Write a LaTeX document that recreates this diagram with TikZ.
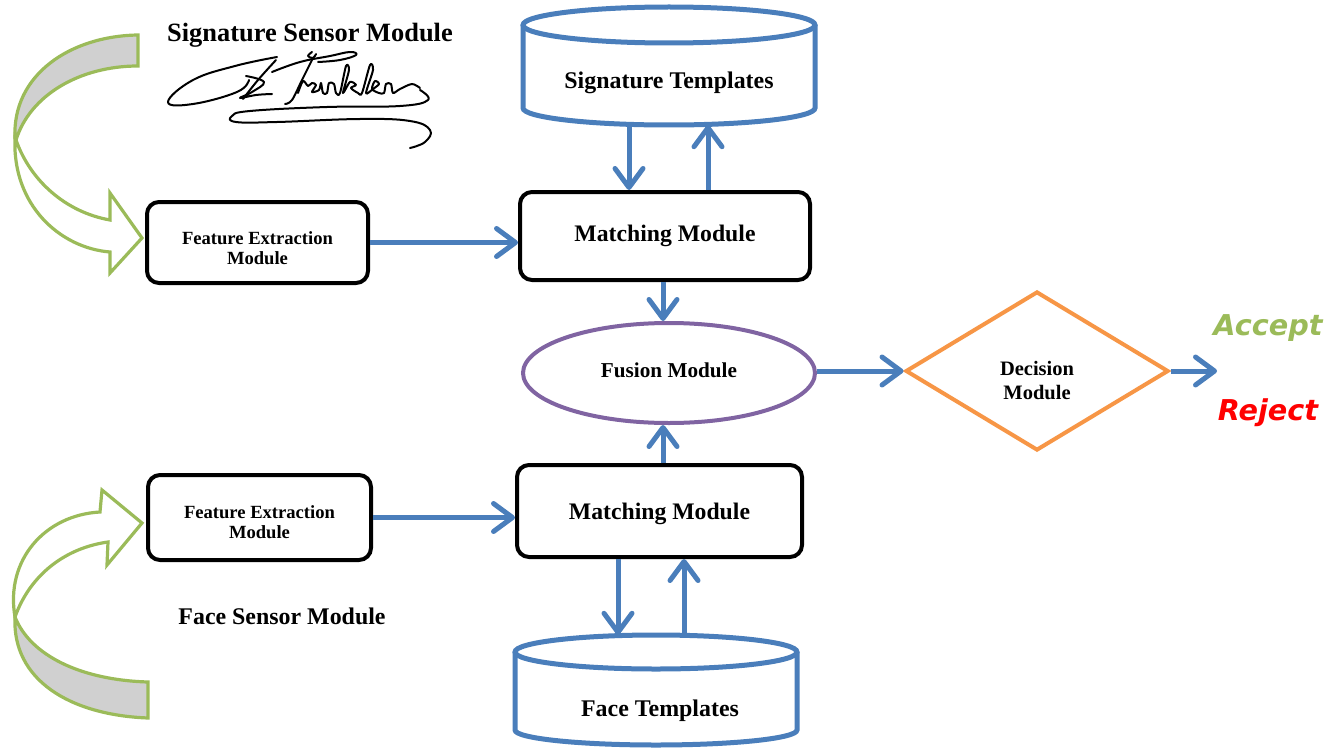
\documentclass[tikz,border=0pt]{standalone}
\usepackage{fontspec}
\setmainfont{Liberation Serif}
\newfontfamily\vfont{DejaVu Sans}
\usetikzlibrary{arrows.meta,shapes.geometric}
\definecolor{cblue}{HTML}{4A7EBB}
\definecolor{cgreen}{HTML}{9BBB59}
\definecolor{cgray}{HTML}{D0D0D0}
\definecolor{cpurple}{HTML}{8064A2}
\definecolor{corange}{HTML}{F79646}
\definecolor{cred}{HTML}{FF0000}
\tikzset{
  arr/.style={draw=cblue, line width=5pt, -{Straight Barb[length=19pt,width=28pt,round]}},
  modbox/.style={draw=black, line width=4pt, rounded corners=12pt, fill=white, align=center, font=\bfseries},
  cyl/.style={draw=cblue, line width=5pt},
  curvearrow/.style={draw=cgreen, line width=3.2pt, line join=miter},
  sig/.style={draw=black, line width=2pt, line cap=round, line join=round},
  fs/.style={font=\fontsize{#1pt}{#1pt}\selectfont\bfseries}
}
\newcommand{\shiftdown}[2]{\raisebox{-#1}[\height][\depth]{#2}}
\begin{document}
\begin{tikzpicture}[x=1pt,y=-1pt]
\useasboundingbox (0,0) rectangle (1340,749);

% ---------- cylinders ----------
\draw[cyl] (523,25) -- (523,108) arc[start angle=180,end angle=360,x radius=146,y radius=-17] -- (815,25);
\draw[cyl, fill=white] (669,25) ellipse [x radius=146, y radius=18];
\node[fs=23.9, minimum width=292pt, minimum height=84pt, inner sep=0pt] (st) at (669,83) {Signature Templates};

\draw[cyl] (515,652) -- (515,730) arc[start angle=180,end angle=360,x radius=141,y radius=-15] -- (797,652);
\draw[cyl, fill=white] (656,652) ellipse [x radius=141, y radius=17];
\node[fs=23.9, minimum width=282pt, minimum height=152pt, inner sep=0pt] (ft) at (660,711) {Face Templates};

% ---------- boxes ----------
\node[modbox, fs=23.7, minimum width=290pt, minimum height=88pt] (mm1) at (665,236) {Matching Module};
\node[modbox, fs=23.7, minimum width=285pt, minimum height=92pt] (mm2) at (659.5,511) {\shiftdown{3pt}{Matching Module}};
\node[modbox, fs=18.6, minimum width=221pt, minimum height=81pt] (fe1) at (257.5,242.5)
  {\shiftdown{8pt}{\begin{tabular}{@{}c@{}}Feature Extraction\\[1.4pt]Module\end{tabular}}};
\node[modbox, fs=18.6, minimum width=223pt, minimum height=85pt] (fe2) at (259.5,517.5)
  {\shiftdown{7pt}{\begin{tabular}{@{}c@{}}Feature Extraction\\[1.4pt]Module\end{tabular}}};

\node[ellipse, draw=cpurple, line width=4pt, fill=white, minimum width=292pt, minimum height=100pt, inner sep=0pt, fs=21.2] (fus) at (669,373) {\shiftdown{-3pt}{Fusion Module}};

\node[diamond, draw=corange, line width=4pt, fill=white, minimum width=263pt, minimum height=159pt, aspect=1.65, inner sep=0pt] (dec) at (1037,371) {};
\node[fs=20.5, align=center, inner sep=0pt] (dectext) at (1037,381) {Decision\\[3.5pt]Module};

% ---------- labels ----------
\node[fs=26.4, anchor=base] (ssm) at (310,42) {Signature Sensor Module};
\node[fs=23.9, anchor=base] (fsm) at (282,624) {Face Sensor Module};
\node[font=\vfont\fontsize{28.7pt}{30pt}\selectfont\bfseries\itshape, text=cgreen] (acc) at (1268,328) {Accept};
\node[font=\vfont\fontsize{28.7pt}{30pt}\selectfont\bfseries\itshape, text=cred] (rej) at (1268,413) {Reject};

% ---------- connectors ----------
\coordinate (xa) at (629,0);
\coordinate (xb) at (708,0);
\coordinate (xc) at (663,0);
\coordinate (xd) at (618,0);
\coordinate (xe) at (684,0);
\coordinate (out) at (1217,371);
\draw[arr] (st.south -| xa) -- (mm1.north -| xa);
\draw[arr] (mm1.north -| xb) -- (st.south -| xb);
\draw[arr] (fe1.east) -- (mm1.west |- fe1.east);
\draw[arr] (fe2.east) -- (mm2.west |- fe2.east);
\draw[arr] (mm1.south -| xc) -- (fus.north -| xc);
\draw[arr] (mm2.north -| xc) -- (fus.south -| xc);
\draw[arr] (mm2.south -| xd) -- (ft.north -| xd);
\draw[arr] (ft.north -| xe) -- (mm2.south -| xe);
\draw[arr] (fus.east |- dec.west) -- (dec.west);
\draw[arr] (dec.east) -- (out);

% ---------- curved arrows ----------
% top
\draw[curvearrow, fill=cgray] (15,138) .. controls (12,75) and (70,36) .. (138,35) -- (138,66)
   .. controls (80,66) and (30,95) .. (16,140) -- cycle;
\draw[curvearrow, fill=white] (16,140) .. controls (30,180) and (65,212) .. (110,220)
   -- (110,193) -- (142,238) -- (110,273) -- (110,252)
   .. controls (60,248) and (12,205) .. (15,138) -- cycle;
% bottom
\draw[curvearrow, fill=cgray] (15,617) .. controls (30,655) and (80,680) .. (148,682) -- (148,718)
   .. controls (70,715) and (12,680) .. (15,617) -- cycle;
\draw[curvearrow, fill=white] (15,617) .. controls (5,560) and (45,515) .. (100,512)
   -- (102,490) -- (142,523) -- (107,565) -- (108,542)
   .. controls (65,548) and (30,575) .. (15,617) -- cycle;

% ---------- signature ----------
\draw[sig] plot[smooth, tension=0.7] coordinates {(277,57) (235,66) (193,80) (168,102) (193,104) (237,92) (249,80)};
\draw[sig] plot[smooth, tension=0.6] coordinates {(276,60) (258,80) (243,99)};
\draw[sig] plot[smooth, tension=0.7] coordinates {(246,76) (264,82) (252,92) (240,98) (256,95) (272,94)};
\draw[sig] plot[smooth, tension=0.7] coordinates {(272,72) (300,62) (330,56) (350,52) (356,55) (340,60) (318,62)};
\draw[sig] plot[smooth, tension=0.6] coordinates {(312,52) (308,56) (313,58) (316,54)};
\draw[sig] plot[smooth, tension=0.6] coordinates {(312,60) (302,80) (292,100) (285,104)};
\draw[sig] plot[smooth, tension=0.5] coordinates {(298,93) (303,81) (308,86) (312,83) (316,85) (312,92) (319,90) (321,83) (323,93) (327,93) (329,83) (334,84) (336,93) (340,93) (346,66) (349,70) (343,93) (350,82) (356,85) (351,88) (358,93) (362,93) (370,65) (373,70) (366,93) (373,89) (379,84) (375,81) (372,89) (379,93) (384,93) (386,84) (391,84) (393,93) (400,89) (412,84) (420,88)};
\draw[sig] plot[smooth, tension=0.7] coordinates {(420,90) (428,100) (400,106) (327,107) (250,111) (232,116) (236,122) (277,122) (360,119) (410,121) (430,130) (425,142) (410,148)};
\end{tikzpicture}
\end{document}
